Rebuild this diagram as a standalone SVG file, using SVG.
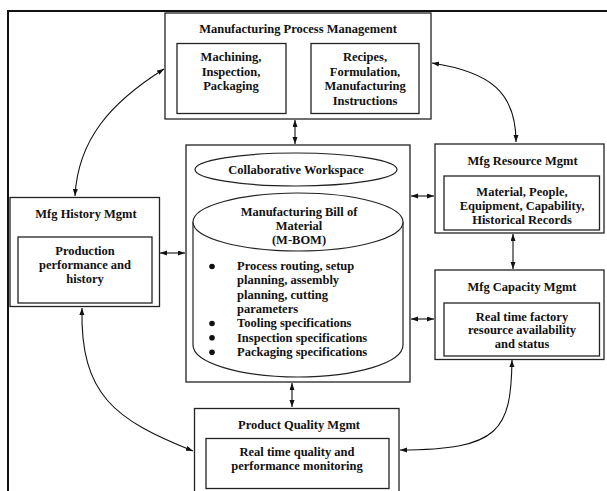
<svg xmlns="http://www.w3.org/2000/svg" width="607" height="491" viewBox="0 0 607 491">
  <style>
    text { font-family: "Liberation Serif", "Times New Roman", serif; font-weight: bold; font-size: 12.5px; fill: #111; text-anchor: middle; }
    .lt { text-anchor: start; }
    .box { fill: #fff; stroke: #222; stroke-width: 1.3; }
    .shape { fill: #fff; stroke: #222; stroke-width: 1.2; }
    .link { fill: none; stroke: #111; stroke-width: 1.1; marker-start: url(#head); marker-end: url(#head); }
  </style>
  <defs>
    <marker id="head" markerUnits="userSpaceOnUse" markerWidth="8" markerHeight="6" refX="7" refY="2.5" orient="auto-start-reverse">
      <path d="M0,0 L7,2.5 L0,5 z" fill="#111"/>
    </marker>
  </defs>

  <rect width="607" height="491" fill="#fff"/>
  <!-- page frame -->
  <path d="M8,491 L8,11 L607,11" fill="none" stroke="#111" stroke-width="2"/>

  <g id="connectors">
    <path class="link" d="M75,196 C78,140 110,103 164,69"/>
    <path class="link" d="M432,63 C490,72 516,92 516,142"/>
    <path class="link" d="M82,308 C80,395 115,420 193,451"/>
    <path class="link" d="M400,450 C500,450 511,430 512,360"/>
    <path class="link" d="M295,120 L295,144"/>
    <path class="link" d="M160,253 L185,253"/>
    <path class="link" d="M411,196 L434,196"/>
    <path class="link" d="M411,319 L434,319"/>
    <path class="link" d="M513,234 L513,269"/>
    <path class="link" d="M292,383 L292,407"/>
  </g>

  <g id="process-mgmt">
    <rect class="box" x="165" y="13" width="266" height="106"/>
    <text x="298" y="33">Manufacturing Process Management</text>
    <rect class="box" x="177" y="43.5" width="109" height="70"/>
    <text x="231" y="61">Machining,</text>
    <text x="231" y="75.5">Inspection,</text>
    <text x="231" y="90">Packaging</text>
    <rect class="box" x="311" y="43.5" width="108" height="70"/>
    <text x="365" y="61">Recipes,</text>
    <text x="365" y="75.5">Formulation,</text>
    <text x="365" y="90">Manufacturing</text>
    <text x="365" y="104.5">Instructions</text>
  </g>

  <g id="workspace">
    <rect class="box" x="186" y="145" width="224" height="237"/>
    <ellipse class="shape" cx="296" cy="169.5" rx="101" ry="16.5"/>
    <text x="296" y="174">Collaborative Workspace</text>
    <path class="shape" d="M193,222 L193,345 A105,32 0 0 0 403,345 L403,222"/>
    <ellipse class="shape" cx="298" cy="222" rx="105" ry="29"/>
    <text x="299" y="215.5">Manufacturing Bill of</text>
    <text x="299" y="230">Material</text>
    <text x="299" y="244">(M-BOM)</text>
    <g fill="#111">
      <circle cx="212" cy="266.5" r="2.8"/>
      <circle cx="212" cy="323.5" r="2.8"/>
      <circle cx="212" cy="337.8" r="2.8"/>
      <circle cx="212" cy="352.2" r="2.8"/>
    </g>
    <text class="lt" x="237" y="270">Process routing, setup</text>
    <text class="lt" x="237" y="284.3">planning, assembly</text>
    <text class="lt" x="237" y="298.7">planning, cutting</text>
    <text class="lt" x="237" y="313">parameters</text>
    <text class="lt" x="237" y="327.4">Tooling specifications</text>
    <text class="lt" x="237" y="341.7">Inspection specifications</text>
    <text class="lt" x="237" y="356">Packaging specifications</text>
  </g>

  <g id="history-mgmt">
    <rect class="box" x="10" y="197.5" width="149.5" height="109"/>
    <text x="86" y="218">Mfg History Mgmt</text>
    <rect class="box" x="18" y="237" width="134" height="66"/>
    <text x="85" y="255">Production</text>
    <text x="85" y="269.3">performance and</text>
    <text x="85" y="283.3">history</text>
  </g>

  <g id="resource-mgmt">
    <rect class="box" x="435" y="144" width="169" height="89"/>
    <text x="522.5" y="164.7">Mfg Resource Mgmt</text>
    <rect class="box" x="444" y="176" width="155.5" height="54"/>
    <text x="522" y="195.7">Material, People,</text>
    <text x="522" y="209.7">Equipment, Capability,</text>
    <text x="522" y="223.5">Historical Records</text>
  </g>

  <g id="capacity-mgmt">
    <rect class="box" x="435" y="270" width="169" height="89.5"/>
    <text x="522" y="290.7">Mfg Capacity Mgmt</text>
    <rect class="box" x="444" y="303" width="155.5" height="53"/>
    <text x="522" y="320.5">Real time factory</text>
    <text x="522" y="334.2">resource availability</text>
    <text x="522" y="347.8">and status</text>
  </g>

  <g id="quality-mgmt">
    <rect class="box" x="194.5" y="408.5" width="204.5" height="84"/>
    <text x="299" y="429">Product Quality Mgmt</text>
    <rect class="box" x="206" y="438.5" width="183" height="50"/>
    <text x="297" y="455.5">Real time quality and</text>
    <text x="297" y="470">performance monitoring</text>
  </g>
</svg>
